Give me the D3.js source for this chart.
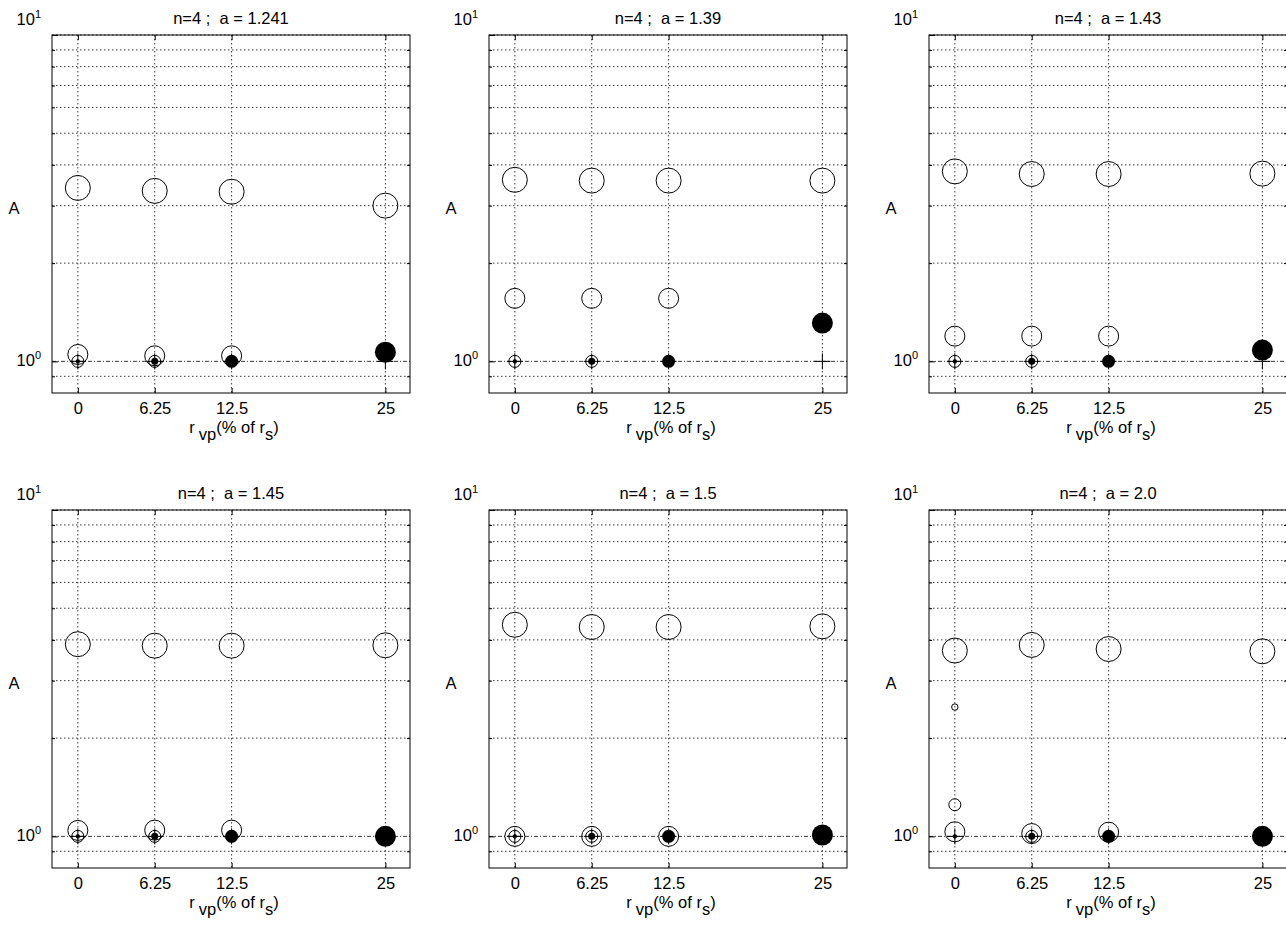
<!DOCTYPE html>
<html>
<head>
<meta charset="utf-8">
<script src="https://cdn.jsdelivr.net/npm/d3@7"></script>
<style>
  body { margin: 0; background: #fff; }
  text { font-family: "Liberation Sans", Arial, sans-serif; fill: #000; }
</style>
</head>
<body>
<svg id="chart" width="1286" height="928"></svg>
<script>
// Chart data
const xTicks = [0, 6.25, 12.5, 25];
const titles = ["n=4 ;  a = 1.241", "n=4 ;  a = 1.39", "n=4 ;  a = 1.43",
                "n=4 ;  a = 1.45", "n=4 ;  a = 1.5", "n=4 ;  a = 2.0"];
// one row per panel, one value per x tick (null = no marker)
const bigOpen = [
  [3.40, 3.33, 3.31, 3.00],
  [3.60, 3.58, 3.58, 3.58],
  [3.82, 3.75, 3.75, 3.76],
  [3.88, 3.84, 3.84, 3.85],
  [4.45, 4.38, 4.38, 4.40],
  [3.71, 3.86, 3.75, 3.69],
];
const midOpen = [
  [1.05, 1.04, 1.04, null],
  [1.56, 1.56, 1.56, null],
  [1.195, 1.195, 1.195, null],
  [1.043, 1.045, 1.045, null],
  [1.0, 1.0, 1.0, null],
  [1.033, 1.02, 1.03, null],
];
const smallOpen = [
  [1.0, 1.0, null, null],
  [1.0, 1.0, null, null],
  [1.0, 1.0, null, null],
  [1.0, 1.0, null, null],
  [1.0, 1.0, null, null],
  [null, 1.0, null, null],
];
const filled = [
  [1.0, 1.0, 1.0, 1.067],
  [1.0, 1.0, 1.0, 1.31],
  [1.0, 1.0, 1.0, 1.083],
  [1.0, 1.0, 1.0, 1.0],
  [1.0, 1.0, 1.0, 1.01],
  [1.0, 1.0, 1.0, 1.0],
];
const plusMarks = [
  [1.0, 1.0, 1.0, 1.0],
  [1.0, 1.0, 1.0, 1.0],
  [1.0, 1.0, 1.0, 1.0],
  [1.0, 1.0, 1.0, 1.0],
  [1.0, 1.0, 1.0, 1.0],
  [1.0, 1.0, 1.0, 1.0],
];
// extra lone markers of the last panel: [x, value]
const extraTiny = [[], [], [], [], [], [[0, 2.49]]];
const extraSmall = [[], [], [], [], [], [[0, 1.25]]];
const yGridValues = [0.9, 1, 2, 3, 4, 5, 6, 7, 8, 9, 10];

// Layout and styles
const panelLeft = [52, 489, 929];
const panelTop = [35, 510];
const size = 358;
const fontSize = 16.5;
const rBig = 12.5, rMid = 10, rSmall = 6, rTiny = 3.2, plusHalf = 8;
const rFilled = [2.2, 3.5, 6.5, 10.5];

const svg = d3.select("#chart");

titles.forEach((title, i) => {
  let left = panelLeft[i % 3];
  let top = panelTop[Math.floor(i / 3)];
  let x = d3.scaleLinear().domain([-2.1, 27]).range([left, left + size]);
  let y = d3.scaleLog().domain([0.8, 10]).range([top + size, top]);
  let g = svg.append("g");

  // grid
  g.append("g").selectAll("line").data(yGridValues).join("line")
    .attr("x1", left).attr("x2", left + size)
    .attr("y1", d => y(d)).attr("y2", d => y(d))
    .attr("stroke", "#222").attr("stroke-width", 0.9)
    .attr("stroke-dasharray", d => d === 1 ? "4,2,1,2" : "1.5,2.5");
  g.append("g").selectAll("line").data(xTicks).join("line")
    .attr("x1", d => x(d)).attr("x2", d => x(d))
    .attr("y1", top).attr("y2", top + size)
    .attr("stroke", "#222").attr("stroke-width", 0.9)
    .attr("stroke-dasharray", "1.5,2.5");

  // axes with inner ticks
  g.append("g").attr("transform", `translate(0,${top + size})`)
    .call(d3.axisBottom(x).tickValues(xTicks).tickSizeInner(-5).tickSizeOuter(0)
      .tickPadding(9).tickFormat(d => d))
    .call(a => a.select(".domain").remove())
    .call(a => a.attr("font-size", null).attr("font-family", null))
    .call(a => a.selectAll("text").style("font-size", fontSize + "px"));
  g.append("g").attr("transform", `translate(0,${top})`)
    .call(d3.axisTop(x).tickValues(xTicks).tickSizeInner(-5).tickSizeOuter(0).tickFormat(""))
    .call(a => a.select(".domain").remove());
  g.append("g").attr("transform", `translate(${left},0)`)
    .call(d3.axisLeft(y).tickValues(yGridValues.filter(d => d < 10 && d !== 1))
      .tickSizeInner(-3).tickSizeOuter(0).tickFormat(""))
    .call(a => a.select(".domain").remove());
  g.append("g").attr("transform", `translate(${left},0)`)
    .call(d3.axisLeft(y).tickValues([1, 10]).tickSizeInner(-6).tickSizeOuter(0).tickFormat(""))
    .call(a => a.select(".domain").remove());
  g.append("g").attr("transform", `translate(${left + size},0)`)
    .call(d3.axisRight(y).tickValues(yGridValues.filter(d => d < 10 && d !== 1))
      .tickSizeInner(-3).tickSizeOuter(0).tickFormat(""))
    .call(a => a.select(".domain").remove());
  g.append("rect")
    .attr("x", left).attr("y", top).attr("width", size).attr("height", size)
    .attr("fill", "none").attr("stroke", "#000").attr("stroke-width", 1);

  // y tick labels 10^0 and 10^1
  [[1, 5], [10, -10]].forEach(([v, dy]) => {
    let t = g.append("text").attr("x", left - 11).attr("y", y(v) + dy)
      .attr("text-anchor", "end").style("font-size", fontSize + "px");
    t.append("tspan").text("10");
    t.append("tspan").attr("dy", -7).style("font-size", "11px").text(Math.log10(v));
  });

  // title and labels
  g.append("text").attr("x", left + size / 2).attr("y", top - 11)
    .attr("text-anchor", "middle").style("font-size", fontSize + "px")
    .style("white-space", "pre").text(title);
  g.append("text").attr("x", left - 38).attr("y", top + size / 2)
    .attr("text-anchor", "middle").style("font-size", fontSize + "px").text("A");
  let xl = g.append("text").attr("x", left + size / 2 + 3).attr("y", top + size + 40)
    .attr("text-anchor", "middle").style("font-size", fontSize + "px");
  xl.append("tspan").text("r");
  xl.append("tspan").attr("dx", 4).attr("dy", 7).text("vp");
  xl.append("tspan").attr("dy", -7).text("(% of r");
  xl.append("tspan").attr("dy", 7).text("s");
  xl.append("tspan").attr("dy", -7).text(")");

  // markers
  const pts = (vals) => vals.map((v, k) => ({x: xTicks[k], v, k})).filter(d => d.v != null);
  let m = g.append("g").attr("stroke", "#000").attr("stroke-width", 1);
  m.selectAll(".big").data(pts(bigOpen[i])).join("circle")
    .attr("cx", d => x(d.x)).attr("cy", d => y(d.v)).attr("r", rBig).attr("fill", "none");
  m.selectAll(".mid").data(pts(midOpen[i])).join("circle")
    .attr("cx", d => x(d.x)).attr("cy", d => y(d.v)).attr("r", rMid).attr("fill", "none");
  m.selectAll(".small").data(pts(smallOpen[i])).join("circle")
    .attr("cx", d => x(d.x)).attr("cy", d => y(d.v)).attr("r", rSmall).attr("fill", "none");
  m.selectAll(".plus").data(pts(plusMarks[i])).join("path")
    .attr("d", d => {
      let cx = x(d.x), cy = y(d.v);
      return `M${cx - plusHalf},${cy}H${cx + plusHalf}M${cx},${cy - plusHalf}V${cy + plusHalf}`;
    });
  m.selectAll(".fill").data(pts(filled[i])).join("circle")
    .attr("cx", d => x(d.x)).attr("cy", d => y(d.v)).attr("r", d => rFilled[d.k])
    .attr("fill", "#000").attr("stroke", "none");
  m.append("g").selectAll("circle").data(extraTiny[i]).join("circle")
    .attr("cx", d => x(d[0])).attr("cy", d => y(d[1])).attr("r", rTiny).attr("fill", "none");
  m.append("g").selectAll("circle").data(extraSmall[i]).join("circle")
    .attr("cx", d => x(d[0])).attr("cy", d => y(d[1])).attr("r", rSmall).attr("fill", "none");
});
</script>
</body>
</html>
